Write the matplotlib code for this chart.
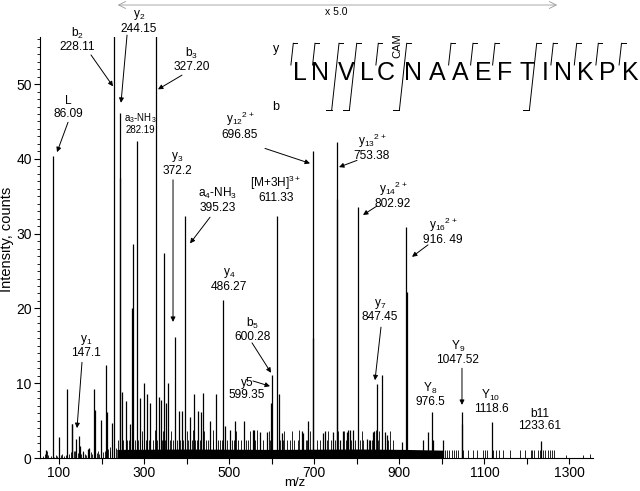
import matplotlib
matplotlib.use("Agg")
import matplotlib.pyplot as plt
from matplotlib.lines import Line2D
from matplotlib.ticker import MultipleLocator

plt.rcParams['font.family'] = ['Liberation Sans', 'DejaVu Sans']
plt.rcParams['mathtext.default'] = 'regular'

# ---------------- spectrum data ----------------
# labelled fragment ions
ion_names = ["L", "y$_1$", "b$_2$", "y$_2$", "a$_3$-NH$_3$", "b$_3$", "y$_3$",
             "a$_4$-NH$_3$", "y$_4$", "y5", "b$_5$", "[M+3H]$^{3+}$",
             "y$_{12}$$^{2+}$", "y$_{13}$$^{2+}$", "y$_{14}$$^{2+}$", "y$_7$",
             "y$_{16}$$^{2+}$", "Y$_8$", "Y$_9$", "Y$_{10}$", "b11"]
ion_mz_text = ["86.09", "147.1", "228.11", "244.15", "282.19", "327.20", "372.2",
               "395.23", "486.27", "599.35", "600.28", "611.33",
               "696.85", "753.38", "802.92", "847.45",
               "916. 49", "976.5", "1047.52", "1118.6", "1233.61"]
ion_intensity = [40.4, 3.0, 58.0, 46.1, 42.4, 58.0, 16.2,
                 32.4, 21.1, 7.4, 11.1, 32.4,
                 41.0, 42.3, 33.6, 9.9,
                 30.9, 6.1, 6.1, 4.8, 2.3]

# other resolved peaks (m/z, intensity)
peak_mz = [69.5, 100.8, 119.8, 130.6, 131.4, 141.0, 149.0, 155.6, 168.5, 171.0,
           181.5, 184.5, 199.0, 211.0, 213.5, 224.5, 242.5, 247.5, 257.5, 268.0,
           272.5, 275.0, 290.4, 299.0, 307.5, 314.0, 335.0, 340.0, 347.0, 351.5,
           356.5, 381.0, 388.5, 408.0, 416.5, 427.5, 433.5, 439.5, 455.5, 469.0,
           490.0, 502.0, 513.5, 535.0, 556.5, 558.5, 572.5, 588.0, 616.4, 623.5,
           670.5, 674.0, 686.0, 697.35, 721.0, 725.3, 743.0, 753.88, 760.0, 768.4,
           776.0, 780.0, 784.0, 792.0, 823.3, 831.0, 837.0, 840.5, 860.0, 866.0,
           871.7, 905.6, 916.99, 956.0, 966.6, 980.0, 1003.0, 1048.0]
peak_int = [1.1, 2.8, 9.2, 4.5, 4.5, 2.5, 1.6, 0.8, 1.2, 1.3,
            9.2, 6.4, 5.1, 12.4, 6.2, 4.7, 37.4, 8.8, 7.6, 4.5,
            20.0, 28.6, 8.0, 10.0, 8.6, 7.3, 8.2, 7.7, 27.4, 7.4,
            10.0, 6.3, 6.3, 5.5, 8.6, 6.3, 6.2, 8.7, 5.0, 8.6,
            4.3, 3.7, 4.9, 4.9, 3.7, 3.7, 3.5, 3.5, 8.6, 3.3,
            3.6, 3.3, 4.9, 16.0, 3.3, 3.6, 3.5, 34.7, 2.4, 3.6,
            3.5, 3.7, 3.7, 3.7, 2.6, 2.4, 3.5, 3.6, 11.1, 3.5,
            3.1, 2.2, 22.2, 2.4, 3.5, 2.4, 2.4, 4.6]

# small noise peaks
noise_mz = [62, 66, 71, 75, 80, 88, 92, 96, 104, 108, 112, 116, 124, 127, 135,
            137, 144, 152, 157, 160, 164, 175, 178, 189, 192, 195, 204, 207, 216,
            219, 221, 230, 233,
            239.5, 243.4, 244.5, 251.2, 260.7, 265.3, 266.0, 270.8, 278.7, 286.5,
            294.3, 296.0, 304.5, 310.8, 321.8, 326.0, 331.2, 335.9, 339.0, 342.1,
            344.0, 345.3, 349.2, 356.0, 360.9, 363.0, 367.2, 376.6, 383.0, 384.4,
            392.3, 400.0, 404.0, 411.9, 414.0, 419.7, 425.2, 431.5, 442.0, 444.8,
            451.0, 461.0, 462.8, 474.6, 478.5, 482.4, 494.2, 505.9, 511.4, 515.0,
            521.6, 527.1, 539.6, 545.1, 548.0, 560.8, 565.0, 572.5, 580.4, 588.2,
            594.0, 596.0, 619.5, 627.4, 630.0, 635.2, 643.1, 648.0, 652.5, 662.6,
            665.0, 680.7, 683.8, 690.0, 705.7, 713.6, 730.8, 733.0, 739.4, 748.8,
            755.0, 770.0, 774.7, 785.7, 795.9, 807.6, 812.0, 815.5, 829.5, 835.0,
            845.0, 850.7, 853.0, 858.5, 874.2, 877.0, 886.0,
            1008.2, 1012.9, 1017.6, 1023.0, 1028.5, 1033.2, 1038.7, 1050.5, 1060.6,
            1072.4, 1081.8, 1097.5, 1101.0, 1105.3, 1120.0, 1126.5, 1134.3, 1143.0,
            1160.0, 1183.7, 1195.5, 1209.6, 1212.0, 1216.6, 1226.8, 1230.0, 1238.0,
            1243.0, 1250.0, 1254.0, 1258.0, 1263.6, 1293.0, 1332.0, 1348.0]
noise_int = [0.3, 0.5, 0.9, 0.4, 0.3, 0.2, 0.4, 0.3, 0.4, 0.5, 0.3, 0.4, 0.6, 0.8, 1.0,
             0.9, 0.7, 0.5, 1.0, 0.5, 0.4, 0.8, 0.6, 0.7, 1.0, 0.6, 0.8, 1.0, 1.2,
             0.9, 1.5, 2.0, 1.3,
             2.4, 2.4, 3.6, 2.4, 2.4, 2.4, 3.7, 2.4, 2.4, 2.4,
             2.4, 3.6, 2.4, 2.4, 2.4, 3.7, 2.4, 2.4, 2.4, 2.4,
             3.6, 2.4, 2.4, 3.8, 2.4, 3.6, 2.4, 2.4, 3.7, 2.4,
             2.4, 3.6, 2.4, 2.4, 3.7, 2.4, 2.4, 2.4, 3.6, 2.4,
             2.4, 3.7, 2.4, 2.4, 2.4, 2.4, 2.4, 2.4, 2.4, 3.6,
             2.4, 2.4, 2.4, 2.4, 3.6, 2.4, 3.7, 2.4, 2.4, 2.4,
             3.6, 2.4, 2.4, 2.4, 3.6, 2.4, 2.4, 3.6, 2.4, 2.4,
             3.7, 2.4, 2.4, 3.6, 2.4, 2.4, 2.4, 3.6, 2.4, 2.4,
             3.6, 3.6, 2.4, 2.4, 2.4, 2.4, 3.6, 2.4, 2.4, 2.4,
             3.7, 2.4, 3.6, 2.4, 2.4, 3.6, 2.4,
             1.1, 1.1, 1.1, 1.1, 1.1, 1.1, 1.1, 1.1, 1.1,
             1.1, 1.1, 1.1, 1.1, 1.1, 1.1, 1.1, 1.1, 1.1,
             1.1, 1.1, 1.1, 1.1, 1.1, 1.1, 1.1, 1.1, 1.1,
             1.1, 1.1, 1.1, 1.1, 1.1, 0.4, 0.4, 0.5]

# unresolved chemical noise floor in the x5 window
floor_mz = [236, 400, 600, 800, 912, 1004]
floor_level = [1.15, 1.2, 1.15, 1.2, 1.15, 1.05]

# x5 magnification window
zoom_range = [238, 1271]

# peptide sequence
sequence = list("LNVLCNAAEFTINKPK")

# ---------------- figure ----------------
W, H = 640, 491
fig = plt.figure(figsize=(W / 100, H / 100), dpi=100)
ax = fig.add_axes([40 / W, 1 - 458 / H, 553 / W, 421 / H])

ax.set_xlim(55.3, 1355.3)
ax.set_ylim(0, 56.3)

ax.fill_between(floor_mz, 0, floor_level, color='k', lw=0)
ax.vlines(noise_mz, 0, noise_int, colors='k', lw=0.6)
ax.vlines(peak_mz, 0, peak_int, colors='k', lw=0.9)
ion_mz = [float(s.replace(" ", "")) for s in ion_mz_text]
ax.vlines(ion_mz, 0, ion_intensity, colors='k', lw=0.9)

for s in ('top', 'right'):
    ax.spines[s].set_visible(False)
for s in ('left', 'bottom'):
    ax.spines[s].set_linewidth(0.8)

ax.xaxis.set_major_locator(MultipleLocator(100))
ax.xaxis.set_major_formatter(
    plt.FuncFormatter(lambda v, p: f"{int(round(v))}" if int(round(v)) % 200 == 100 else ""))
ax.yaxis.set_major_locator(MultipleLocator(10))
ax.yaxis.set_minor_locator(MultipleLocator(1))
ax.tick_params(axis='both', which='major', direction='out', length=4, width=0.8,
               labelsize=10, pad=2)
ax.tick_params(axis='x', which='major', pad=1.5)
ax.tick_params(axis='y', which='minor', direction='out', length=2, width=0.6)

ax.set_xlabel("m/z", fontsize=9.5)
ax.xaxis.set_label_coords(0.46, -0.046)
ax.set_ylabel("Intensity, counts", fontsize=10.5)
ax.yaxis.set_label_coords(-0.047, 0.52)

# ion annotations: label centre, optional arrow (start, tip)
label_xy = [(121.2, 46.9), (163.5, 15.0), (142.3, 55.95), (288.1, 58.36),
            (290.4, 44.8), (412.6, 53.3), (377.4, 39.4), (473.8, 34.5),
            (499.6, 23.9), (541.9, 9.2), (556.0, 17.2), (610.1, 36.0),
            (525.5, 44.5), (835.8, 41.6), (885.1, 35.2), (854.6, 19.8),
            (1002.7, 30.4), (972.1, 8.5), (1037.9, 14.1), (1115.5, 7.55),
            (1230.7, 5.1)]
arrows = [((121.2, 44.9), (95.3, 40.9)), ((154.0, 12.8), (142.3, 4.0)),
          ((175.2, 53.9), (226.9, 49.7)), ((259.9, 56.55), (245.7, 47.5)),
          None, ((389.1, 51.2), (332.7, 49.3)), ((368.0, 37.2), (368.0, 18.2)),
          ((455.0, 32.2), (408.0, 28.7)), None, ((556.0, 10.3), (596.0, 9.6)),
          ((553.7, 15.4), (598.4, 11.4)), None,
          ((584.2, 41.4), (690.0, 39.4)), ((800.5, 39.8), (758.2, 38.9)),
          ((847.5, 33.7), (814.6, 32.5)), ((856.9, 17.5), (842.8, 10.4)),
          ((967.4, 28.5), (929.8, 26.9)), None, ((1047.3, 12.0), (1047.3, 7.1)),
          None, None]

for name, mztxt, (lx, ly), arr in zip(ion_names, ion_mz_text, label_xy, arrows):
    fs = 7 if 'a$_3$' in name else 8.6
    ax.text(lx, ly, f"{name}\n{mztxt}", ha='center', va='center', fontsize=fs,
            linespacing=1.05, clip_on=False)
    if arr is not None:
        ax.annotate('', xy=arr[1], xytext=arr[0], annotation_clip=False,
                    arrowprops=dict(arrowstyle='-|>', color='k', lw=0.7,
                                    mutation_scale=7, shrinkA=0, shrinkB=0))

# x5 magnification marker
xtr = ax.get_xaxis_transform()
ax.annotate('', xy=(zoom_range[1], 1.076), xytext=(zoom_range[0], 1.076),
            xycoords=xtr, textcoords=xtr, annotation_clip=False,
            arrowprops=dict(arrowstyle='<->,head_length=0.5,head_width=0.25',
                            color='#9a9a9a', lw=0.6, shrinkA=0, shrinkB=0))
ax.text(725, 1.059, "x 5.0", transform=xtr, ha='left', va='center', fontsize=7.5)


# ---------------- sequence with fragment brackets ----------------
def fp(x, y):
    return x / W, 1 - y / H


def seg(x0, y0, x1, y1):
    (a, b), (c, d) = fp(x0, y0), fp(x1, y1)
    fig.add_artist(Line2D([a, c], [b, d], transform=fig.transFigure,
                          color='k', lw=0.7))


letter_x = [300, 320, 346, 367, 386, 413, 437, 460, 483, 505, 527, 545, 563,
            585, 607, 630]
for ch, x in zip(sequence, letter_x):
    fig.text(*fp(x, 79.5), ch, ha='center', va='baseline', fontsize=18)
fig.text(*fp(397, 46), "CAM", rotation=90, ha='center', va='center', fontsize=8)
fig.text(*fp(276, 49), "y", ha='center', va='center', fontsize=9)
fig.text(*fp(276, 107), "b", ha='center', va='center', fontsize=9)

y_cuts = [293.3, 315, 339, 356.7, 378.3, 406.7, 451, 473, 495, 536.7, 553.3,
          576.7, 598.3, 621.5]
b_cuts = [339, 356.7, 406.7, 536.7]
top_y, short_y, bot_y = 43.3, 65, 110
for x in y_cuts:
    seg(x, top_y, x + 4, top_y)
    if x in b_cuts:
        xb = x - 7.3
        seg(x, top_y, xb, bot_y)
        seg(xb - 6, bot_y, xb, bot_y)
    else:
        seg(x, top_y, x - 2.4, short_y)

fig.savefig("out.png", dpi=100)
